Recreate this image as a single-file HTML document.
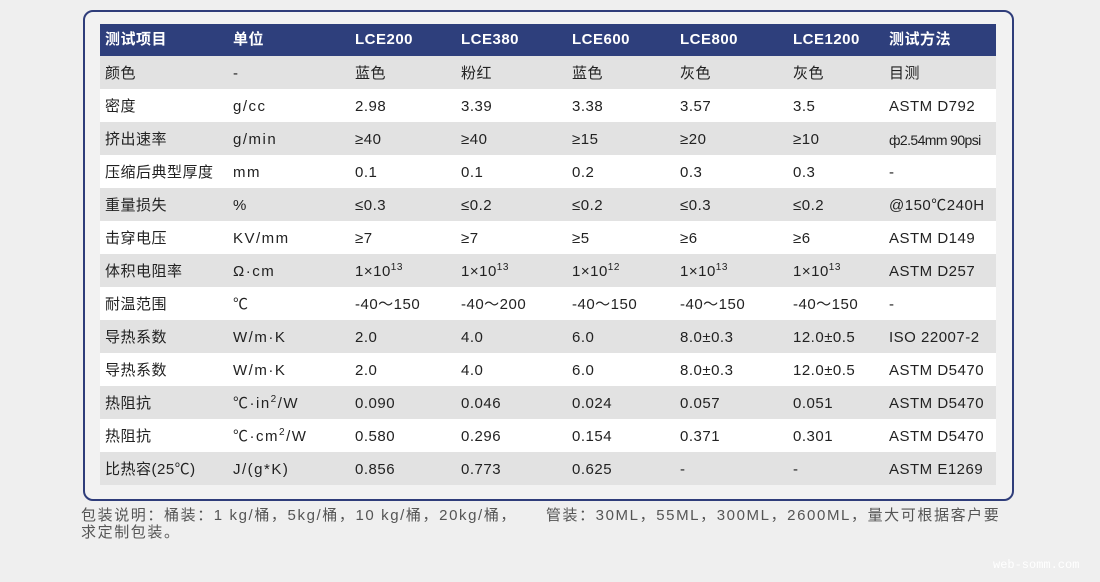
<!DOCTYPE html>
<html><head><meta charset="utf-8"><style>
body{margin:0;width:1100px;height:582px;background:#efefef;font-family:"Liberation Sans","Noto Sans CJK SC",sans-serif;position:relative;overflow:hidden}
.box{position:absolute;left:83px;top:10px;width:927px;height:487px;border:2px solid #2f3d7a;border-radius:10px;background:#f2f2f2}
.row{position:absolute;left:100px;width:896px;height:33px;font-size:15px;color:#222}
.row span{position:absolute;top:1px;line-height:34px;white-space:nowrap;letter-spacing:0.5px}
.row span.u{letter-spacing:1.5px}
.g{background:#e2e2e2}.w{background:#fff}
.hd{background:#2e3f7c;color:#fff;font-weight:bold;height:32px;top:24px}
.hd span{line-height:32px;top:0}
sup{font-size:10px;vertical-align:6px;line-height:0}
.foot{position:absolute;left:81px;top:507px;font-size:15px;color:#555;letter-spacing:1.6px;line-height:17px;width:960px}
.wm{position:absolute;left:993px;top:558px;color:#fff;font-family:"Liberation Mono",monospace;font-size:12px}
</style></head><body>
<div class="box"></div>
<div class="row hd"><span style="left:5px">测试项目</span><span style="left:133px">单位</span><span style="left:255px">LCE200</span><span style="left:361px">LCE380</span><span style="left:472px">LCE600</span><span style="left:580px">LCE800</span><span style="left:693px">LCE1200</span><span style="left:789px">测试方法</span></div>
<div id="rows"></div>
<div class="foot">包装说明：桶装：1 kg/桶，5kg/桶，10 kg/桶，20kg/桶，&nbsp;&nbsp;&nbsp;&nbsp;&nbsp;管装：30ML，55ML，300ML，2600ML，量大可根据客户要<br>求定制包装。</div>
<div class="wm">web-somm.com</div>
<script>
var d=[
["颜色","-","蓝色","粉红","蓝色","灰色","灰色","目测"],
["密度","g/cc","2.98","3.39","3.38","3.57","3.5","ASTM D792"],
["挤出速率","g/min","≥40","≥40","≥15","≥20","≥10","<i style='font-style:normal;letter-spacing:-0.6px;font-size:14px'>ф2.54mm 90psi</i>"],
["压缩后典型厚度","mm","0.1","0.1","0.2","0.3","0.3","-"],
["重量损失","%","≤0.3","≤0.2","≤0.2","≤0.3","≤0.2","@150℃240H"],
["击穿电压","KV/mm","≥7","≥7","≥5","≥6","≥6","ASTM D149"],
["体积电阻率","Ω·cm","1×10<sup>13</sup>","1×10<sup>13</sup>","1×10<sup>12</sup>","1×10<sup>13</sup>","1×10<sup>13</sup>","ASTM D257"],
["耐温范围","℃","-40～150","-40～200","-40～150","-40～150","-40～150","-"],
["导热系数","W/m·K","2.0","4.0","6.0","8.0±0.3","12.0±0.5","ISO 22007-2"],
["导热系数","W/m·K","2.0","4.0","6.0","8.0±0.3","12.0±0.5","ASTM D5470"],
["热阻抗","℃·in<sup>2</sup>/W","0.090","0.046","0.024","0.057","0.051","ASTM D5470"],
["热阻抗","℃·cm<sup>2</sup>/W","0.580","0.296","0.154","0.371","0.301","ASTM D5470"],
["比热容(25℃)","J/(g*K)","0.856","0.773","0.625","-","-","ASTM E1269"]];
var xs=[5,133,255,361,472,580,693,789],h="";
d.forEach(function(r,i){h+='<div class="row '+(i%2?'w':'g')+'" style="top:'+(56+33*i)+'px">';
r.forEach(function(c,j){h+='<span'+(j==1?' class="u"':'')+' style="left:'+xs[j]+'px">'+c+'</span>'});h+='</div>'});
document.getElementById('rows').innerHTML=h;
</script>
</body></html>
